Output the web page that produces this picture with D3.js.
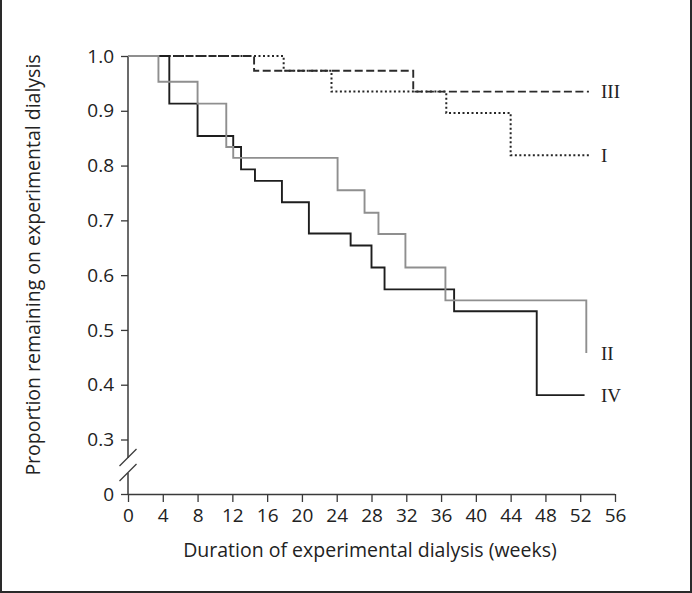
<!DOCTYPE html>
<html>
<head>
<meta charset="utf-8">
<script src="https://cdn.jsdelivr.net/npm/d3@7"></script>
<style>
  html, body { margin: 0; padding: 0; background: #fff; }
  svg { display: block; }
</style>
</head>
<body>
<svg id="chart" width="692" height="593"></svg>
<script>
// ---- Data ----
const xTicks = [0, 4, 8, 12, 16, 20, 24, 28, 32, 36, 40, 44, 48, 52, 56];
const yTicks = [0, 0.3, 0.4, 0.5, 0.6, 0.7, 0.8, 0.9, 1.0];

const seriesNames = ["I", "II", "III", "IV"];

// Group I (dotted)
const timesI  = [0, 17.9, 23.4, 36.6, 44.0];
const valuesI = [1.0, 0.973, 0.935, 0.896, 0.819];
const endI = 53.0;

// Group II (grey solid)
const timesII  = [0, 3.5, 8.0, 11.3, 12.1, 24.1, 27.2, 28.8, 31.9, 36.5, 52.7];
const valuesII = [1.0, 0.953, 0.913, 0.834, 0.814, 0.755, 0.714, 0.675, 0.614, 0.554, 0.458];
const endII = 52.7;

// Group III (dashed)
const timesIII  = [0, 14.5, 32.8];
const valuesIII = [1.0, 0.973, 0.935];
const endIII = 53.0;

// Group IV (black solid)
const timesIV  = [0, 4.75, 8.0, 12.1, 13.0, 14.6, 17.7, 20.8, 25.6, 28.0, 29.5, 37.5, 47.0];
const valuesIV = [1.0, 0.913, 0.854, 0.834, 0.793, 0.772, 0.733, 0.676, 0.654, 0.614, 0.574, 0.534, 0.381];
const endIV = 52.5;

// ---- Layout ----
const svg = d3.select("#chart");
const W = 692, H = 593;
const x = d3.scaleLinear().domain([0, 56]).range([128, 615]);
// broken axis: 0 sits below a break under 0.3
const y = d3.scaleLinear().domain([0, 0.3, 1.0]).range([494, 439.5, 56]);

const sansFont = "'Open Sans', 'Noto Sans', sans-serif";
const serifFont = "'Liberation Serif', 'DejaVu Serif', serif";
const axisColor = "#3a3a3a";

// frame
svg.append("path")
  .attr("d", `M1,0 V${H-1} H${W-1} V0`)
  .attr("fill", "none").attr("stroke", "#2a2a2a").attr("stroke-width", 2);

// ---- Axes ----
const xAxis = d3.axisBottom(x).tickValues(xTicks).tickSize(8).tickPadding(7)
  .tickFormat(d3.format("d"));
const gx = svg.append("g").attr("transform", "translate(0,494)").call(xAxis);
gx.attr("font-size", null).attr("font-family", null);
gx.select(".domain").attr("stroke", axisColor).attr("stroke-width", 1.5)
  .attr("d", `M${x(0)},0.5H${x(56)}`);
gx.selectAll(".tick line").attr("stroke", axisColor).attr("stroke-width", 1.3);
gx.selectAll(".tick text").style("font-family", sansFont).style("font-size", "19px")
  .attr("fill", "#222");

const yAxis = d3.axisLeft(y).tickValues(yTicks).tickSize(7).tickPadding(7)
  .tickFormat(d => d === 0 ? "0" : d3.format(".1f")(d));
const gy = svg.append("g").attr("transform", "translate(128,0)").call(yAxis);
gy.attr("font-size", null).attr("font-family", null);
gy.select(".domain").remove();
gy.selectAll(".tick line").attr("stroke", axisColor).attr("stroke-width", 1.3);
gy.selectAll(".tick text").style("font-family", sansFont).style("font-size", "19px")
  .attr("fill", "#222");

// y-axis line with break
gy.append("line").attr("x1", 0).attr("x2", 0).attr("y1", y(1.0)).attr("y2", 458)
  .attr("stroke", axisColor).attr("stroke-width", 1.5);
gy.append("line").attr("x1", 0).attr("x2", 0).attr("y1", 473).attr("y2", 495)
  .attr("stroke", axisColor).attr("stroke-width", 1.5);
[[466, 449], [481, 464]].forEach(([yb, yt]) => {
  gy.append("line").attr("x1", -8.5).attr("y1", yb).attr("x2", 8.5).attr("y2", yt)
    .attr("stroke", axisColor).attr("stroke-width", 1.3);
});

// axis titles
svg.append("text")
  .attr("x", 370).attr("y", 557)
  .attr("text-anchor", "middle")
  .style("font-family", sansFont).style("font-size", "19.5px").attr("fill", "#222")
  .text("Duration of experimental dialysis (weeks)");

svg.append("text")
  .attr("transform", `translate(40,265) rotate(-90)`)
  .attr("text-anchor", "middle")
  .style("font-family", sansFont).style("font-size", "19.5px").attr("fill", "#222")
  .text("Proportion remaining on experimental dialysis");

// ---- Step curves ----
function stepPoints(times, values, end) {
  const pts = times.map((t, i) => [t, values[i]]);
  pts.push([end, values[values.length - 1]]);
  return pts;
}
const line = d3.line().x(d => x(d[0])).y(d => y(d[1])).curve(d3.curveStepAfter);

const series = [
  { name: "I",   pts: stepPoints(timesI, valuesI, endI),       color: "#262626", dash: "2,2.5", width: 2 },
  { name: "III", pts: stepPoints(timesIII, valuesIII, endIII), color: "#2b2b2b", dash: "8,3.5", width: 1.9 },
  { name: "IV",  pts: stepPoints(timesIV, valuesIV, endIV),    color: "#1e1e1e", dash: null,    width: 1.9 },
  { name: "II",  pts: stepPoints(timesII, valuesII, endII),    color: "#8f8f8f", dash: null,    width: 1.9 }
];

svg.append("g").selectAll("path").data(series).join("path")
  .attr("d", d => line(d.pts))
  .attr("fill", "none")
  .attr("stroke", d => d.color)
  .attr("stroke-width", d => d.width)
  .attr("stroke-dasharray", d => d.dash);

// end labels
const labelData = [
  { name: "III", v: valuesIII[valuesIII.length - 1] },
  { name: "I",   v: valuesI[valuesI.length - 1] },
  { name: "II",  v: valuesII[valuesII.length - 1] },
  { name: "IV",  v: valuesIV[valuesIV.length - 1] }
];
svg.append("g").selectAll("text").data(labelData).join("text")
  .attr("x", 601)
  .attr("y", d => y(d.v))
  .attr("dy", "0.35em")
  .style("font-family", serifFont).style("font-size", "19px").attr("fill", "#222")
  .text(d => d.name);
</script>
</body>
</html>
